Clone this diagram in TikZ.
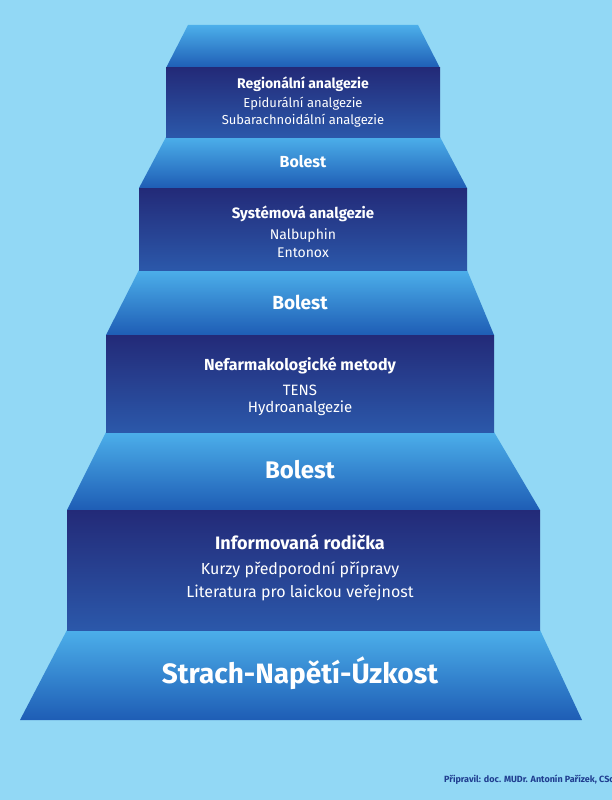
\documentclass[tikz,border=0pt]{standalone}
\usepackage{fontspec}
\setmainfont{Fira Sans}
\definecolor{bg}{HTML}{92D8F5}
\definecolor{trtop}{HTML}{4CAFEA}
\definecolor{trbot}{HTML}{1E5DB5}
\definecolor{rtop}{HTML}{232A78}
\definecolor{rbot}{HTML}{2B58AA}
\definecolor{foot}{HTML}{1F3D8F}
\newcommand{\myhd}[1]{\fontsize{#1}{#1}\selectfont\bfseries}
\newcommand{\mysb}[1]{\fontsize{#1}{#1}\selectfont\mdseries}
\begin{document}
\begin{tikzpicture}[x=1pt,y=-1pt,
  trap/.style={top color=trtop,bottom color=trbot,draw=none},
  rectbox/.style={top color=rtop,bottom color=rbot,draw=none},
  txt/.style={text=white,align=center,inner sep=0pt}]
\fill[bg] (0,0) rectangle (612,800);
\useasboundingbox (0,0) rectangle (612,800);
% trapezoids
\path[trap] (188,25) -- (418,25) -- (440,68) -- (166,68) -- cycle;
\path[trap] (166,137) -- (440,137) -- (467,188) -- (139,188) -- cycle;
\path[trap] (139,270) -- (467,270) -- (494,335) -- (106,335) -- cycle;
\path[trap] (106,432) -- (494,432) -- (540,510) -- (67,510) -- cycle;
\path[trap] (67,630) -- (540,630) -- (582,720) -- (20,720) -- cycle;
% rectangles
\path[rectbox] (166,68) rectangle (440,137);
\path[rectbox] (139,188) rectangle (467,270);
\path[rectbox] (106,335) rectangle (494,432);
\path[rectbox] (67,510) rectangle (540,630);
% texts
\node[txt] (r1) at (303,102) {\myhd{14}Regionální analgezie\\[4pt]
  \mysb{13}Epidurální analgezie\\[3pt]\mysb{13}Subarachnoidální analgezie};
\node[txt,font=\myhd{16}] (b1) at (303,162) {Bolest};
\node[txt] (r2) at (303,232) {\myhd{15}Systémová analgezie\\[6pt]
  \mysb{14}Nalbuphin\\[4pt]\mysb{14}Entonox};
\node[txt,font=\myhd{19}] (b2) at (300,302) {Bolest};
\node[txt] (r3) at (300,386) {\myhd{16}Nefarmakologické metody\\[10pt]
  \mysb{15}TENS\\[5pt]\mysb{15}Hydroanalgezie};
\node[txt,font=\myhd{24}] (b3) at (300,470) {Bolest};
\node[txt] (r4) at (300,568) {\myhd{18}Informovaná rodička\\[11pt]
  \mysb{16}Kurzy předporodní přípravy\\[6pt]\mysb{16}Literatura pro laickou veřejnost};
\node[txt,font=\myhd{28}] (s) at (300,673) {Strach-Napětí-Úzkost};
\node[anchor=west,inner sep=0pt,text=foot,font=\myhd{9}] (f) at (444,780) {Připravil: doc. MUDr. Antonín Pařízek, CSc.};
\end{tikzpicture}
\end{document}
